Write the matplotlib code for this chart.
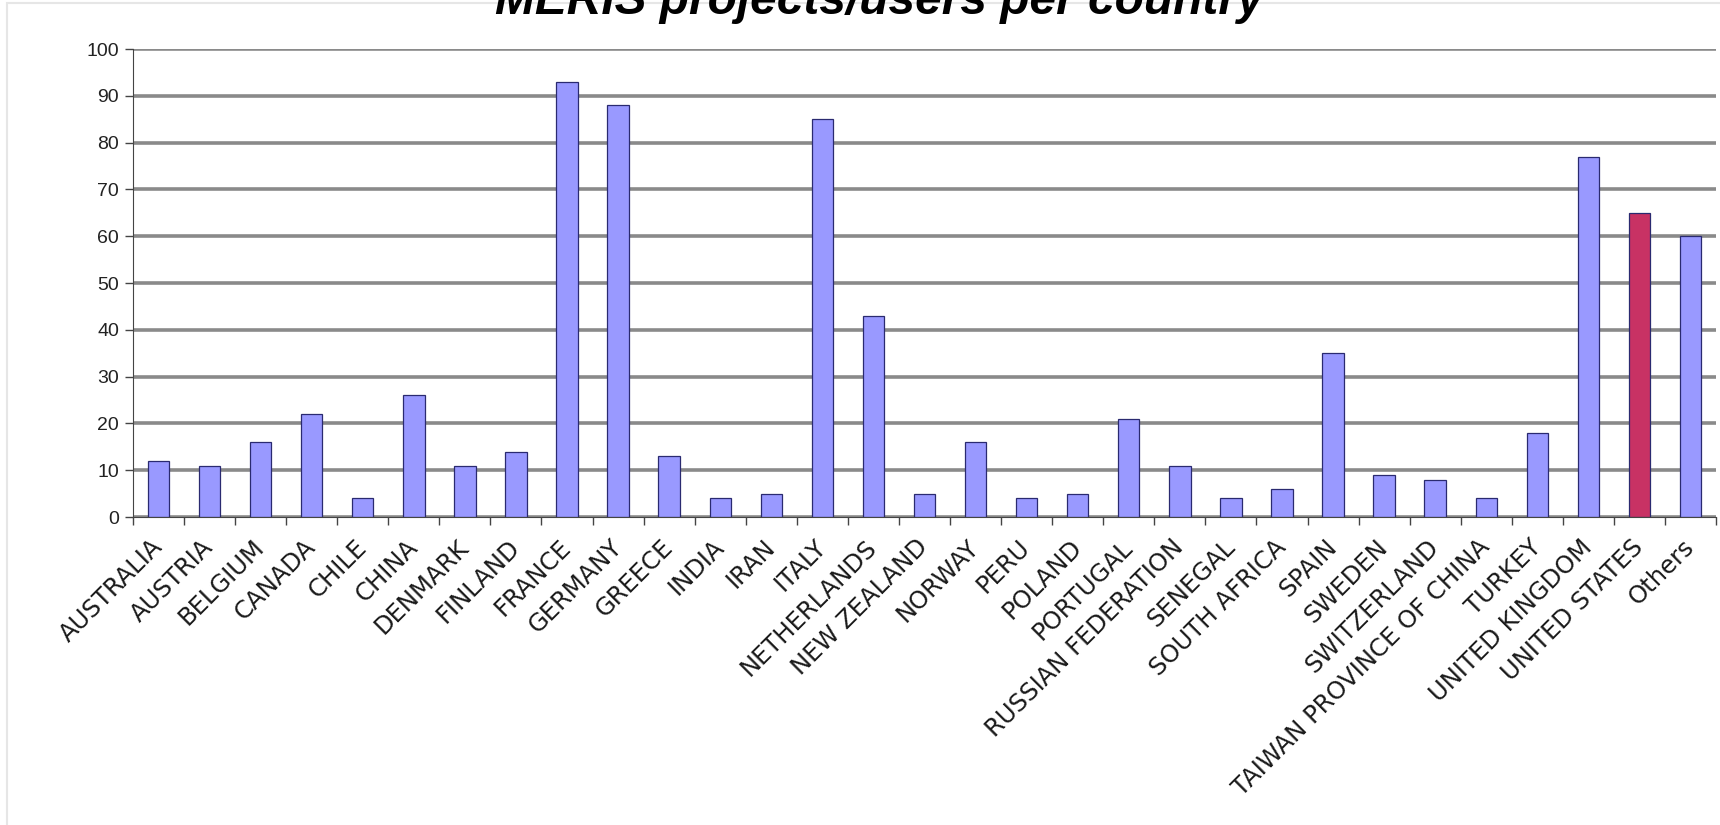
import numpy as np
import matplotlib
matplotlib.use("Agg")
from matplotlib import pyplot as plt
from matplotlib.patches import Rectangle

countries = ["AUSTRALIA", "AUSTRIA", "BELGIUM", "CANADA", "CHILE", "CHINA",
             "DENMARK", "FINLAND", "FRANCE", "GERMANY", "GREECE", "INDIA",
             "IRAN", "ITALY", "NETHERLANDS", "NEW ZEALAND", "NORWAY", "PERU",
             "POLAND", "PORTUGAL", "RUSSIAN FEDERATION", "SENEGAL",
             "SOUTH AFRICA", "SPAIN", "SWEDEN", "SWITZERLAND",
             "TAIWAN PROVINCE OF CHINA", "TURKEY", "UNITED KINGDOM",
             "UNITED STATES", "Others"]
users = [12, 11, 16, 22, 4, 26, 11, 14, 93, 88, 13, 4, 5, 85, 43, 5, 16, 4,
         5, 21, 11, 4, 6, 35, 9, 8, 4, 18, 77, 65, 60]
highlight = "UNITED STATES"
y_ticks = list(range(0, 101, 10))

plt.rcParams['font.family'] = ['Liberation Sans', 'DejaVu Sans']

fig = plt.figure(figsize=(17.2, 8.25), dpi=100)
ax = fig.add_axes([0.0773, 0.3733, 0.9204, 0.5673])

# faint chart-area frame like the spreadsheet export
fig.patches.append(Rectangle((0.004, -0.01), 1.2, 1.006, transform=fig.transFigure,
                             fill=False, edgecolor='#e6e6e6', lw=1.5))

x = np.arange(len(countries))
colors = ['#C83264' if c == highlight else '#9999FF' for c in countries]
ax.bar(x, users, width=0.42, color=colors, edgecolor='#2a2a70', linewidth=0.9, zorder=3)

ax.set_xlim(-0.5, len(countries) - 0.5)
ax.set_ylim(0, 100)
ax.set_yticks(y_ticks)
ax.set_yticklabels([str(v) for v in y_ticks], fontsize=14, color='#222222')
ax.yaxis.grid(True, color='#8a8a8a', linewidth=2.6, zorder=1)
ax.set_axisbelow(True)

# ticks between categories, labels under each bar
ax.set_xticks(np.arange(len(countries) + 1) - 0.5)
ax.set_xticklabels([])
ax.set_xticks(x, countries, minor=True)
ax.tick_params(axis='x', which='major', length=6, width=1, color='#444444')
ax.tick_params(axis='x', which='minor', length=0, pad=19)
ax.tick_params(axis='y', length=6, width=1, color='#444444', pad=4)
for lbl in ax.get_xticklabels(minor=True):
    lbl.set_rotation(45)
    lbl.set_ha('right')
    lbl.set_va('center')
    lbl.set_rotation_mode('anchor')
    lbl.set_color('#1a1a1a')
    lbl.set_family('DejaVu Sans')
    lbl.set_fontsize(17.5)

for side in ('top', 'right'):
    ax.spines[side].set_visible(False)
ax.spines['left'].set_color('#444444')
ax.spines['bottom'].set_color('#444444')
ax.spines['left'].set_zorder(4)
ax.spines['bottom'].set_zorder(4)

fig.text(0.511, 0.983, "MERIS projects/users per country", ha='center', va='baseline',
         fontsize=34.5, fontweight='bold', fontstyle='italic', color='black')

fig.savefig("out.png", dpi=100)
